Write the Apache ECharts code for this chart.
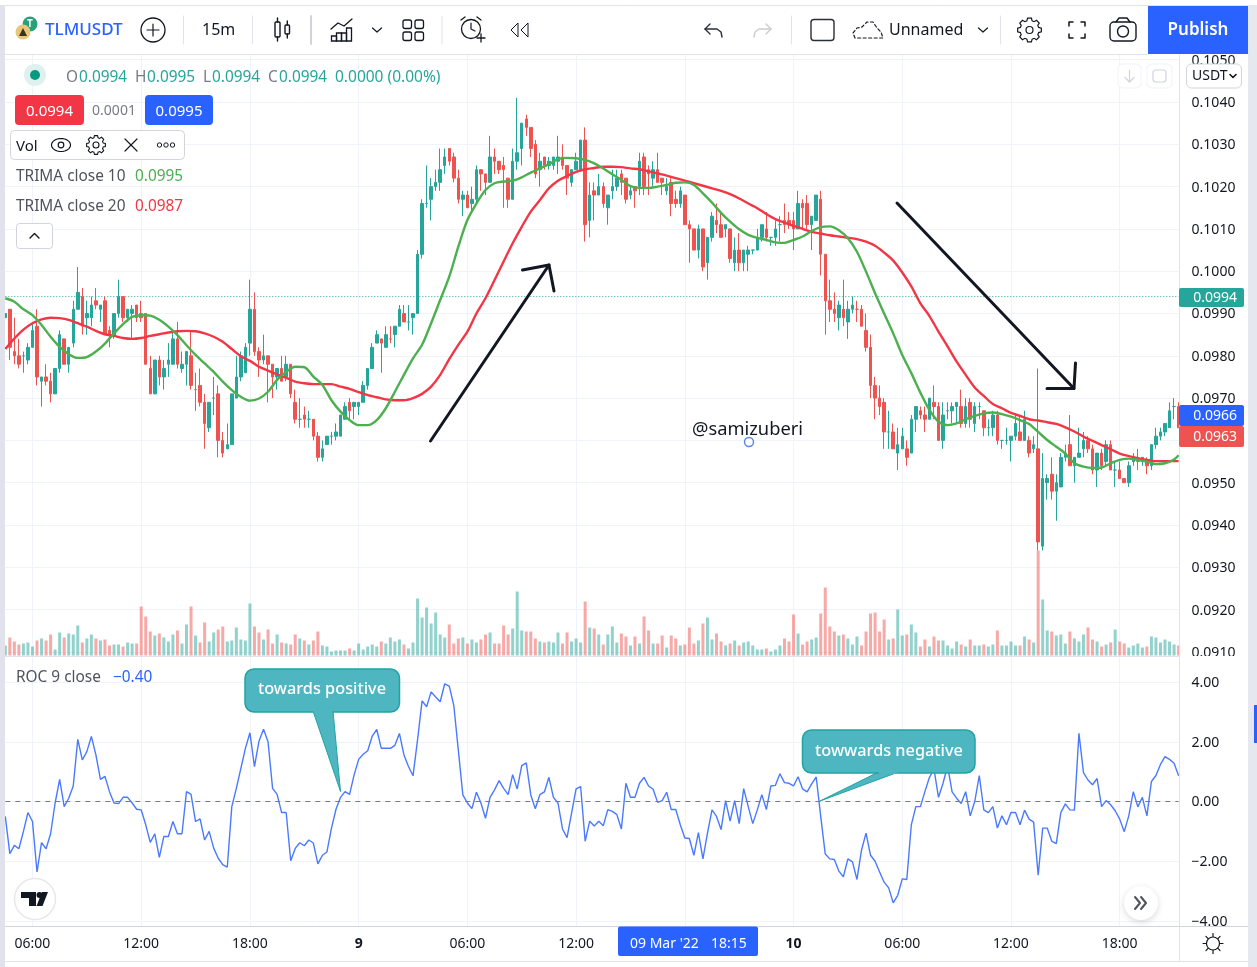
<!DOCTYPE html>
<html>
<head>
<meta charset="utf-8">
<title>TLMUSDT 15m</title>
<style>html,body{margin:0;padding:0;background:#fff}#chart{width:1257px;height:967px}</style>
<script src="https://cdn.jsdelivr.net/npm/echarts@6/dist/echarts.min.js"></script>
</head>
<body>
<div id="chart"></div>
<script>
// Prices are kept in ticks of 0.0001 USDT.
const opens = [
989,991,981,980,980,979,982,987,974,975,
974,971,977,984,978,983,991,994,989,989,
993,991,993,986,985,990,994,989,990,992,
990,990,977,971,979,975,978,978,984,977,
978,980,972,973,969,963,970,971,960,958,
959,970,975,976,983,991,981,979,980,978,
975,977,975,978,969,965,966,965,965,961,
956,959,961,961,961,965,969,968,968,969,
973,977,983,984,982,984,985,987,990,988,
989,990,1004,1016,1017,1020,1021,1025,1029,1027,
1022,1017,1018,1016,1017,1024,1023,1021,1027,1026,
1025,1022,1017,1026,1029,1036,1034,1030,1024,1027,
1025,1025,1026,1027,1025,1021,1024,1024,1031,1012,
1019,1018,1020,1015,1019,1020,1023,1022,1018,1020,
1020,1027,1024,1022,1024,1022,1019,1021,1017,1016,
1018,1011,1010,1005,1010,1002,1008,1012,1011,1010,
1010,1002,1005,1002,1004,1005,1005,1008,1010,1008,
1008,1011,1012,1012,1012,1010,1016,1016,1011,1012,
1017,1004,993,991,989,991,988,991,991,991,
986,982,973,970,969,962,962,957,958,958,
957,965,967,966,965,969,968,960,967,967,
968,968,964,969,964,968,967,963,963,966,
960,960,960,961,962,960,960,958,958,935,
950,952,948,949,956,959,954,956,958,960,
958,953,957,955,959,953,953,951,950,955,
955,955,955,954,959,961,962,963,968,968];
const closes = [
990,982,980,978,980,982,986,975,975,974,
971,977,985,978,982,991,995,987,990,992,
992,992,985,985,990,994,989,991,991,989,
989,978,971,979,975,977,979,984,978,978,
981,973,972,969,964,969,970,960,957,959,
971,975,980,982,991,981,979,980,978,975,
977,974,978,971,965,965,965,965,961,956,
958,961,961,962,966,968,967,969,969,973,
977,982,985,983,985,984,987,991,988,988,
990,1004,1016,1016,1020,1021,1024,1027,1026,1022,
1017,1018,1015,1017,1024,1023,1021,1027,1026,1024,
1024,1017,1026,1028,1035,1034,1029,1023,1026,1025,
1026,1027,1027,1025,1022,1024,1026,1031,1011,1018,
1018,1020,1016,1018,1020,1022,1021,1017,1019,1019,
1026,1020,1023,1024,1021,1021,1020,1016,1016,1019,
1011,1010,1005,1010,1001,1008,1013,1011,1008,1011,
1003,1005,1002,1005,1005,1005,1008,1011,1008,1008,
1010,1011,1011,1011,1010,1016,1015,1011,1013,1018,
1004,993,991,990,992,989,991,992,991,987,
982,973,970,968,962,962,958,959,961,956,
965,968,966,965,970,968,960,966,967,968,
969,964,968,965,968,968,963,963,966,960,
960,960,961,964,960,965,957,959,936,951,
951,948,950,956,957,954,956,957,960,958,
953,957,954,959,953,953,951,950,954,956,
955,956,954,959,961,962,964,967,968,963];
const lows = [
989,979,978,977,976,978,982,973,968,973,
969,971,976,978,976,982,991,985,985,987,
991,988,985,982,984,989,988,988,984,988,
988,978,971,971,973,972,975,978,977,976,
973,972,967,968,958,962,966,956,956,958,
959,970,974,976,980,980,975,978,969,970,
972,974,974,970,964,963,963,963,960,955,
955,959,959,960,961,965,965,965,966,969,
972,977,983,976,982,983,982,987,988,986,
985,990,1003,1015,1012,1019,1019,1023,1025,1021,
1016,1013,1015,1014,1016,1019,1018,1021,1023,1023,
1015,1015,1017,1024,1025,1032,1027,1022,1020,1024,
1024,1024,1023,1024,1018,1020,1024,1024,1007,1008,
1012,1018,1015,1011,1017,1019,1018,1016,1017,1015,
1018,1018,1018,1020,1021,1018,1018,1013,1015,1015,
1011,1002,1005,1003,1000,998,1007,1009,1008,1008,
1002,1000,1000,1000,1000,1004,1005,1007,1007,1006,
1006,1007,1009,1010,1005,1010,1010,1010,1005,1012,
999,985,988,988,986,987,984,990,988,987,
981,970,965,966,958,958,958,953,958,954,
957,962,965,962,965,965,960,958,965,964,
964,963,963,963,962,965,961,961,961,959,
958,959,955,960,960,960,956,957,934,934,
946,946,941,949,955,954,950,956,956,957,
952,949,953,954,953,949,951,950,949,954,
953,954,952,953,958,960,961,963,965,963];
const highs = [
990,991,989,984,981,983,988,991,975,978,
976,977,986,984,982,993,1001,996,993,994,
996,992,994,987,990,998,994,991,992,992,
993,990,980,979,980,979,983,986,988,981,
981,986,976,977,971,969,975,973,962,964,
971,980,981,983,998,995,982,985,980,978,
977,980,980,978,972,970,968,967,965,962,
960,961,962,964,966,969,970,969,969,974,
977,983,986,984,987,987,987,992,992,992,
990,1005,1017,1025,1022,1024,1029,1029,1029,1028,
1024,1019,1019,1020,1025,1024,1023,1032,1029,1026,
1027,1022,1029,1041,1035,1037,1034,1031,1028,1027,
1027,1027,1032,1030,1025,1024,1028,1031,1034,1021,
1021,1023,1021,1018,1024,1024,1024,1022,1020,1020,
1028,1028,1025,1026,1028,1022,1022,1022,1019,1020,
1018,1012,1010,1011,1010,1008,1014,1016,1014,1011,
1010,1008,1009,1005,1006,1005,1010,1011,1014,1008,
1012,1013,1016,1014,1014,1019,1017,1018,1013,1018,
1019,1004,998,995,993,998,993,994,993,992,
990,985,975,973,970,967,964,963,963,960,
966,968,968,968,970,973,969,969,969,969,
969,972,970,970,969,969,967,965,967,967,
960,963,961,966,966,967,961,961,977,957,
952,956,952,957,959,966,956,963,962,961,
959,957,958,960,960,955,955,951,955,957,
958,956,956,959,963,963,964,969,970,969];
const lastPrice = 994;

const volumes = [
10,18,14,11,12,13,9,15,17,15,
21,6,23,18,22,21,30,13,17,21,
17,15,16,10,11,11,9,13,12,12,
49,39,24,20,22,18,14,21,25,12,
31,49,20,13,33,14,23,26,29,14,
15,28,16,15,52,29,23,16,26,12,
21,13,12,11,21,17,15,11,15,24,
10,9,4,5,5,5,7,5,12,6,
9,11,9,14,12,18,14,16,11,7,
13,57,38,48,32,43,21,18,31,12,
17,18,12,16,13,16,21,23,12,12,
30,21,27,64,25,24,24,17,14,13,
14,13,23,12,23,14,17,13,54,28,
27,21,11,21,29,13,22,19,10,19,
12,39,25,12,12,20,8,20,17,10,
11,28,12,15,32,38,16,22,14,10,
12,15,10,13,14,10,6,6,7,4,
6,10,17,14,41,22,11,14,16,18,
42,68,29,24,20,21,17,11,19,10,
24,42,43,24,36,16,17,46,20,21,
31,23,9,16,9,19,15,15,10,7,
14,11,9,16,10,10,11,9,11,25,
10,10,14,10,10,19,16,13,105,56,
25,24,20,21,12,24,17,14,21,28,
16,14,9,11,13,26,14,12,8,10,
12,8,9,19,18,13,16,14,11,10];
// g = buying volume, r = selling volume, one letter per bar.
const volumeSides =
"grrrgggrgr"+"rggrgggrgg"+"rgrrggrggr"+"rrrgrgggrg"+"grgrrggrrg"+
"gggggrrgrr"+"grgrrgrgrr"+"ggggggrggg"+"gggrggggrg"+"ggggggggrr"+
"rgrggrrgrr"+"rrgggrrrgr"+"gggrrgggrg"+"rgrgggrrgr"+"grrgrrgrrg"+
"rrrgrggrrg"+"rgrgggggrg"+"ggrrrgrrgg"+"rrrrgrgggr"+"rrrrrgrggr"+
"ggrrgrrggg"+"grgrggrggr"+"ggggrgrgrg"+"grgggrgggr"+"rgrgrgrrgg"+"ggrggggggr";

const trimaFast = [
993.6,992.8,991,989.6,987.3,984.5,982.1,980.4,979.5,979.7,
981,982.9,985.3,987.5,989.2,989.6,989.5,988.5,986.9,984.9,
982.5,980.2,978.2,976.2,973.9,971.9,970.3,969.4,969.9,971.5,
974.3,976.2,977.4,977.3,975.1,973.1,969.5,966.8,964.8,963.6,
963.6,964.8,967.6,971.5,975.5,979.4,982.6,987.7,993.2,998.7,
1005.8,1012.1,1016,1019.2,1020.8,1021.2,1021.4,1022.2,1023.3,1024.3,
1025.3,1026.5,1026.8,1026.7,1026.3,1025.5,1024.3,1022.9,1021.6,1020.1,
1019.7,1019.7,1020,1020.4,1020.9,1021,1020.4,1018.4,1016.2,1013.8,
1011.7,1009.9,1008.6,1007.9,1007.4,1006.8,1006.7,1007.4,1008.2,1009.5,
1010.4,1010.6,1009.7,1007.8,1004.6,999.9,994.8,990,985.3,980.2,
975.9,971.3,967.2,964.4,963.6,964,965,965.8,966.4,966.6,
966.2,965.6,964.8,963.9,962,960.1,958.5,956.9,954.6,953.8,
953.5,953.6,954.6,955.4,955.7,955.4,955,954.4,954.6,955.5,
956.5];
const trimaSlow = [
981.6,984.1,986.2,987.7,988.6,989,988.9,988.5,987.7,986.9,
985.9,985.1,984.7,984.2,984,984.2,984.7,985.1,985.5,985.8,
985.9,985.8,985.3,984.5,983.3,981.6,979.9,978.8,977.4,976.5,
975.6,974.8,973.9,973.5,973.3,973.3,973.3,972.7,972.2,971.4,
970.7,970.2,969.7,969.5,969.5,970,971,972.7,975.5,979.2,
982.6,985.7,990,993.6,997.9,1002.3,1006.6,1010.5,1014.1,1016.8,
1019.6,1021.4,1022.5,1023.5,1024.1,1024.4,1024.7,1024.7,1024.6,1024.3,
1024.1,1023.6,1023.1,1022.6,1022,1021.4,1020.8,1020.2,1019.6,1019,
1018.2,1017.2,1016,1014.9,1013.5,1012.3,1011.5,1010.7,1010,1009.3,
1008.9,1008.5,1008.2,1007.9,1007.6,1007,1006,1004.4,1002.5,999.7,
996.4,992.4,989.4,985.7,982.2,978.6,975.5,972.5,970.5,968.6,
967.6,966.5,965.8,965,964.7,964.3,963.9,963.1,962.1,960.9,
959.9,958.9,957.9,956.9,956.3,955.8,955.4,955.1,955.1,955.1,
955.1];

const roc = [
-0.5,-1.75,-1.47,-1.58,-1.0,-0.37,-0.67,-2.36,-1.38,-1.58,
-1.08,-0.05,0.74,-0.17,0.11,0.52,2.08,1.39,1.67,2.18,
1.56,0.74,0.84,0.33,-0.05,-0.07,0.14,0.14,-0.05,-0.26,
-0.28,-0.78,-1.37,-1.08,-1.87,-1.17,-1.17,-0.67,-1.08,-1.08,
0.33,0.24,-0.67,-0.58,-1.29,-1.0,-1.56,-1.9,-2.11,-2.2,
-0.17,0.44,1.11,1.78,2.3,1.17,2.02,2.42,2.0,0.44,
0.24,-0.37,-0.37,-1.98,-1.57,-1.38,-1.48,-1.29,-1.39,-2.09,
-1.8,-1.69,-0.89,-0.26,0.14,0.33,0.24,0.89,1.41,1.58,
1.7,2.19,2.41,1.78,1.78,1.78,1.88,2.28,1.56,1.17,
0.86,2.06,3.37,3.17,3.67,3.5,3.34,3.94,3.86,3.22,
1.72,0.22,-0.05,-0.24,0.31,-0.05,-0.56,0.14,0.39,0.7,
0.44,0.23,0.9,0.42,1.2,1.29,0.22,-0.24,0.23,0.32,
0.81,0.14,-0.05,-0.92,-1.21,-0.39,0.42,0.5,-1.33,-0.66,
-0.82,-0.66,-0.81,-0.27,-0.33,-0.44,-0.92,0.61,0.14,0.14,
0.61,0.81,0.52,0.41,-0.03,0.03,0.31,-0.27,-0.27,-0.78,
-1.22,-1.24,-1.8,-1.04,-1.92,-1.06,-0.28,-0.5,-0.94,0.03,
-0.66,0.03,-0.74,0.43,-0.17,-0.74,-0.28,0.23,-0.27,0.52,
0.54,0.93,0.63,0.61,0.52,0.83,0.42,0.32,0.59,0.82,
-0.5,-1.76,-1.92,-1.94,-2.33,-2.52,-1.92,-2.02,-2.61,-1.63,
-1.06,-1.8,-2.0,-2.36,-2.7,-2.89,-3.39,-3.14,-2.59,-2.61,
-0.78,-0.17,-0.17,0.33,0.81,1.08,0.14,0.61,1.19,0.32,
0.11,-0.07,0.33,-0.48,0,0.87,-0.28,-0.37,-0.17,-0.89,
-0.48,-0.78,-0.37,-0.37,-0.78,-0.29,-0.59,-0.69,-2.47,-0.89,
-0.89,-1.33,-1.41,-0.37,-0.08,-0.28,-0.29,2.28,0.97,0.72,
0.56,0.77,-0.17,0.03,-0.11,-0.31,-0.59,-1.01,-0.48,0.33,
-0.18,0.14,-0.48,0.67,0.87,1.24,1.5,1.41,1.28,0.86];

// 15-minute bars from 8 Mar 04:30; a midnight bar is named by its day number.
const times = [];
const barMinutes = [];
for (let i = 0; i < opens.length; i++) {
  const total = 270 + 15 * i;
  const m = total % 1440;
  barMinutes.push(total);
  times.push(m === 0 ? String(8 + total / 1440)
    : String(Math.floor(m / 60)).padStart(2, '0') + ':' + String(m % 60).padStart(2, '0'));
}
const sixHourly = (i) => barMinutes[i] % 360 === 0;

const UP = '#26a69a', DOWN = '#ef5350', INK = '#131722', GREY = '#787b86', BLUE = '#2962ff';
const FONT = '"Noto Sans", sans-serif';
const candleData = opens.map((o, i) => [o / 1e4, closes[i] / 1e4, lows[i] / 1e4, highs[i] / 1e4]);
const volumeData = volumes.map((v, i) => ({
  value: v,
  itemStyle: { color: volumeSides[i] === 'g' ? 'rgba(38,166,154,0.5)' : 'rgba(239,83,80,0.5)' }
}));
const lineData = (arr) => arr.map((v, k) => [Math.min(k * 2, opens.length - 1), v / 1e4]);

// Drawing helpers for the toolbar, the legend rows and the annotations.
const g = [];
const Z = 60;
const rect = (x, y, w, h, r, fill, stroke, lw) => g.push({ type: 'rect', z: Z, silent: true,
  shape: { x, y, width: w, height: h, r: r || 0 },
  style: { fill: fill || 'none', stroke: stroke || 'none', lineWidth: lw || 1 } });
const circle = (cx, cy, r, fill, stroke, lw, dash) => g.push({ type: 'circle', z: Z, silent: true,
  shape: { cx, cy, r }, style: { fill: fill || 'none', stroke: stroke || 'none', lineWidth: lw || 1, lineDash: dash } });
const poly = (points, stroke, lw, dash) => g.push({ type: 'polyline', z: Z, silent: true,
  shape: { points }, style: { fill: 'none', stroke, lineWidth: lw || 1, lineDash: dash, lineCap: 'round', lineJoin: 'round' } });
const fillPoly = (points, fill, stroke, opacity) => g.push({ type: 'polygon', z: Z, silent: true,
  shape: { points }, style: { fill, stroke: stroke || 'none', lineWidth: 1, opacity: opacity === undefined ? 1 : opacity } });
const text = (x, y, t, fill, size, weight, align) => g.push({ type: 'text', z: Z, silent: true,
  style: { x, y: y + 1.5, text: t, fill, font: (weight || 400) + ' ' + (size || 14) + 'px ' + FONT, align: align || 'left', verticalAlign: 'middle' } });
const gear = (cx, cy, ro, ri, hole, stroke, lw) => {
  const pts = [];
  for (let k = 0; k < 8; k++) {
    const a = k * Math.PI / 4;
    [[-0.28, ri], [-0.16, ro], [0.16, ro], [0.28, ri]].forEach(([d, r]) =>
      pts.push([cx + r * Math.cos(a + d), cy + r * Math.sin(a + d)]));
  }
  fillPoly(pts, 'none', stroke);
  g[g.length - 1].style.lineWidth = lw || 1.2;
  circle(cx, cy, hole, 'none', stroke, lw || 1.2);
};

// Page frame, pane separators and masks over the clipped scale labels.
rect(1180, 656, 68, 14, 0, '#fff');
rect(1180, 927, 68, 14, 0, '#fff');
rect(0, 0, 1257, 54.5, 0, '#fff');
poly([[0, 5.5], [1257, 5.5]], '#e0e3eb', 1);
poly([[5, 54.5], [1148, 54.5]], '#e0e3eb', 1);
poly([[5, 656.5], [1179.5, 656.5]], '#e0e3eb', 1);
poly([[1179.5, 55], [1179.5, 961]], '#e0e3eb', 1);
poly([[5, 926.5], [1248, 926.5]], '#d1d4dc', 1);
poly([[5, 961.5], [1248, 961.5]], '#e0e3eb', 1);
rect(0, 5, 5, 962, 0, '#e0e3eb');
rect(1248, 5, 9, 962, 0, '#e6e8f0');
rect(1254, 705, 3, 38, 0, BLUE);

// Toolbar.
circle(30, 24, 7.5, '#26a17b');
text(30, 23, 'T', '#fff', 10, 700, 'center');
circle(23, 32, 7.5, '#e8c77b');
fillPoly([[23, 28], [27, 36], [19, 36]], '#3a3320');
text(45, 29, 'TLMUSDT', BLUE, 17, 500);
circle(153, 30, 12, 'none', INK, 1.3);
poly([[153, 24], [153, 36]], INK, 1.2); poly([[147, 30], [159, 30]], INK, 1.2);
poly([[183.5, 16], [183.5, 44]], '#e0e3eb', 1);
text(202, 29, '15m', INK, 16);
poly([[252.5, 16], [252.5, 44]], '#e0e3eb', 1);
rect(275, 22, 5, 15, 1, 'none', INK, 1.4); poly([[277.5, 18], [277.5, 22]], INK, 1.4); poly([[277.5, 37], [277.5, 41]], INK, 1.4);
rect(285, 25, 4.5, 9, 1, 'none', INK, 1.4); poly([[287.3, 21], [287.3, 25]], INK, 1.4); poly([[287.3, 34], [287.3, 38]], INK, 1.4);
poly([[311, 16], [311, 44]], '#d1d4dc', 2);
poly([[331, 29], [338, 23], [344, 26], [352, 19]], INK, 1.3);
rect(331.5, 36, 5, 5, 0, 'none', INK, 1.3); rect(336.5, 33, 5, 8, 0, 'none', INK, 1.3); rect(341.5, 33, 5, 8, 0, 'none', INK, 1.3); rect(346.5, 28, 5, 13, 0, 'none', INK, 1.3);
poly([[372.5, 28], [377, 32], [381.5, 28]], INK, 1.2);
[[403, 20], [415, 20], [403, 32], [415, 32]].forEach(([x, y]) => rect(x, y, 8.5, 8.5, 2, 'none', INK, 1.3));
poly([[442, 16], [442, 44]], '#e0e3eb', 1);
circle(471, 29, 9.5, 'none', INK, 1.3);
poly([[471, 23], [471, 29], [475, 31]], INK, 1.2);
poly([[461, 20], [465, 17]], INK, 1.3); poly([[477, 17], [481, 20]], INK, 1.3);
poly([[481, 34], [481, 42]], INK, 1.3); poly([[477, 38], [485, 38]], INK, 1.3);
fillPoly([[518, 23], [518, 37], [511, 30]], 'none', INK); fillPoly([[528, 23], [528, 37], [521, 30]], 'none', INK);
poly([[710, 24], [705, 29], [710, 34]], '#2a2e39', 1.4); poly([[705, 29], [717, 29], [721, 32], [722, 37]], '#2a2e39', 1.4);
poly([[766, 24], [771, 29], [766, 34]], '#c9cbd1', 1.4); poly([[771, 29], [759, 29], [755, 32], [754, 37]], '#c9cbd1', 1.4);
poly([[791.5, 16], [791.5, 44]], '#e0e3eb', 1);
rect(811, 19.5, 23, 21, 3, 'none', '#2a2e39', 1.4);
poly([[855, 38], [853, 33], [857, 28], [862, 27], [867, 22], [873, 22], [877, 28], [881, 32], [883, 38], [855, 38]], INK, 1.2, [3, 2.5]);
text(889, 29, 'Unnamed', INK, 16);
poly([[978.5, 28], [983, 32], [987.5, 28]], INK, 1.2);
poly([[1000.5, 16], [1000.5, 44]], '#e0e3eb', 1);
gear(1029.5, 30, 12, 9.5, 3.5, INK, 1.2);
[[[1069, 26], [1069, 22], [1073, 22]], [[1081, 22], [1085, 22], [1085, 26]], [[1069, 34], [1069, 38], [1073, 38]], [[1081, 38], [1085, 38], [1085, 34]]].forEach((p) => poly(p, INK, 1.5));
rect(1110, 22, 26, 19, 4, 'none', INK, 1.4); circle(1123, 31.5, 5.5, 'none', INK, 1.4);
poly([[1116, 22], [1119, 18], [1127, 18], [1130, 22]], INK, 1.4);
rect(1148, 6, 100, 48, 0, BLUE);
text(1198, 29, 'Publish', '#fff', 17, 600, 'center');

// Symbol legend.
circle(35, 75, 11, '#dff1ee'); circle(35, 75, 5, '#089981');
[[66, 'O', 79, '0.0994'], [135, 'H', 147, '0.0995'], [203, 'L', 212, '0.0994'], [268, 'C', 279, '0.0994']].forEach(([x1, k, x2, v]) => {
  text(x1, 76, k, GREY, 15.4); text(x2, 76, v, UP, 15.4);
});
text(335, 76, '0.0000 (0.00%)', UP, 15.5);
rect(15, 95, 69, 30, 4, '#f23645'); text(49.5, 110, '0.0994', '#fff', 15, 400, 'center');
text(114, 110, '0.0001', GREY, 14, 400, 'center');
rect(145, 95, 68, 30, 4, BLUE); text(179, 110, '0.0995', '#fff', 15, 400, 'center');
rect(10.5, 130.5, 174, 29, 4, '#fff', '#d1d4dc', 1);
text(16, 145, 'Vol', INK, 15);
const eye = [];
for (let k = 0; k <= 32; k++) { const a = k / 32 * 2 * Math.PI; eye.push([61 + 9.5 * Math.cos(a), 145 + 6.5 * Math.sin(a)]); }
poly(eye, INK, 1.2); circle(61, 145, 2.8, 'none', INK, 1.2);
gear(96, 145, 9.5, 7.5, 3, INK, 1.1);
poly([[125, 139], [137, 151]], INK, 1.2); poly([[137, 139], [125, 151]], INK, 1.2);
[159.5, 166, 172.5].forEach((x) => circle(x, 145, 2.2, 'none', INK, 1));
text(16, 175.5, 'TRIMA close 10', '#50535e', 15.4); text(135, 175.5, '0.0995', '#4caf50', 15.4);
text(16, 205.5, 'TRIMA close 20', '#50535e', 15.4); text(135, 205.5, '0.0987', '#f23645', 15.4);
rect(16.5, 223.5, 36, 25, 3, '#fff', '#d1d4dc', 1);
poly([[30, 238], [34.5, 233.5], [39, 238]], INK, 1.4);

// Scale buttons and last-price tags.
rect(1118, 64, 23, 24, 5, '#fff', '#f0f3fa', 1);
poly([[1129.5, 70], [1129.5, 82]], '#d1d4dc', 1.2); poly([[1125, 77.5], [1129.5, 82], [1134, 77.5]], '#d1d4dc', 1.2);
rect(1147, 64, 25, 24, 5, '#fff', '#f0f3fa', 1);
rect(1153, 70, 13, 12, 3, 'none', '#d1d4dc', 1.2);
rect(1186.5, 64, 55, 24, 5, '#fff', '#d1d4dc', 1);
text(1192, 75, 'USDT', INK, 14);
poly([[1230, 74.5], [1233, 77.5], [1236, 74.5]], INK, 1.6);
rect(1179, 288, 65, 19, 2, '#26a69a'); text(1237, 297, '0.0994', '#fff', 14, 400, 'right');
rect(1179, 405, 65, 21, 2, BLUE); text(1237, 415, '0.0966', '#fff', 14, 400, 'right');
rect(1179, 426, 65, 21, 2, '#ef5350'); text(1237, 436, '0.0963', '#fff', 14, 400, 'right');

// Hand-drawn annotations.
poly([[430.5, 441], [549, 265]], INK, 3); poly([[522.5, 270], [549, 265], [554, 291]], INK, 3);
poly([[897, 203], [1074, 388.5]], INK, 3); poly([[1047, 388.5], [1074, 388.5], [1075.5, 363]], INK, 3);
text(692, 428, '@samizuberi', INK, 18.3);
circle(749, 442, 4.5, '#fff', '#5d87e8', 1.5);

const TEAL = '#4db6c0', TEAL_EDGE = '#22a3a3';
fillPoly([[313, 711], [333, 711], [340.5, 791.5]], TEAL, TEAL_EDGE);
rect(245, 669, 154.5, 43, 9, TEAL, TEAL_EDGE, 1.5);
rect(313.5, 708, 19, 5, 0, TEAL);
text(322, 688, 'towards positive', '#fff', 16.3, 500, 'center');
fillPoly([[878.5, 772], [898.5, 772], [820, 801]], TEAL, TEAL_EDGE);
rect(802.5, 730, 172.5, 43, 9, TEAL, TEAL_EDGE, 1.5);
rect(879, 769, 19, 5, 0, TEAL);
text(889, 750, 'towwards negative', '#fff', 16.3, 500, 'center');

// Indicator caption, logo badge, scroll button and time scale extras.
text(16, 676.5, 'ROC 9 close', '#50535e', 15.4); text(113, 676.5, '\u22120.40', BLUE, 15.4);
circle(35, 899, 20.5, '#fff', '#e8e8e8', 1.5);
fillPoly([[21, 892], [36, 892], [36, 906], [29, 906], [29, 898], [21, 898]], INK);
circle(39.5, 895, 3, INK);
fillPoly([[42, 892], [48, 892], [42.5, 906], [36.5, 906]], INK);
g.push({ type: 'circle', z: Z, silent: true, shape: { cx: 1141, cy: 903, r: 17 },
  style: { fill: '#fff', shadowBlur: 6, shadowColor: 'rgba(0,0,0,0.15)', shadowOffsetY: 2 } });
poly([[1135, 897], [1140, 903], [1135, 909]], '#50535e', 2); poly([[1141, 897], [1146, 903], [1141, 909]], '#50535e', 2);
rect(618, 926.5, 140, 29.5, 2, BLUE);
text(630, 943, "09 Mar '22", '#fff', 14); text(711, 943, '18:15', '#fff', 14);
// Light-theme switch: a ring with short rays.
circle(1213, 943.5, 6.5, 'none', INK, 1.2);
for (let k = 0; k < 8; k++) {
  const a = k * Math.PI / 4;
  poly([[1213 + 7 * Math.cos(a), 943.5 + 7 * Math.sin(a)], [1213 + 10 * Math.cos(a), 943.5 + 10 * Math.sin(a)]], INK, 1.2);
}

const chart = echarts.init(document.getElementById('chart'));
const hiddenX = (gridIndex) => ({ type: 'category', gridIndex, data: times, boundaryGap: false, show: false });
const gridBox = (top, height) => ({ left: 5.3, width: 1173.3, top, height });
const scaleLabel = (formatter) => ({ color: INK, fontSize: 14, fontFamily: FONT, margin: 13, verticalAlign: 'top', lineHeight: 2, formatter });

chart.setOption({
  animation: false,
  backgroundColor: '#fff',
  grid: [gridBox(59.7, 592.2), gridBox(55, 600.5), gridBox(682, 239), gridBox(657, 269)],
  xAxis: [
    hiddenX(0),
    {
      type: 'category', gridIndex: 1, data: times, boundaryGap: false,
      axisLine: { show: false }, axisTick: { show: false }, axisLabel: { show: false },
      splitLine: { show: true, interval: sixHourly, lineStyle: { color: '#f0f3fa', width: 1 } }
    },
    hiddenX(2),
    {
      type: 'category', gridIndex: 3, data: times, boundaryGap: false,
      axisLine: { show: false }, axisTick: { show: false },
      splitLine: { show: true, interval: sixHourly, lineStyle: { color: '#f0f3fa', width: 1 } },
      axisLabel: {
        interval: sixHourly, color: INK, fontSize: 14, fontFamily: FONT, margin: 11,
        formatter: (v) => v.length < 3 ? '{day|' + v + '}' : v,
        rich: { day: { fontWeight: 700, fontSize: 14, color: INK, fontFamily: FONT } }
      }
    }
  ],
  yAxis: [
    {
      type: 'value', gridIndex: 0, position: 'right', min: 0.091, max: 0.105, interval: 0.001,
      axisLine: { show: false }, axisTick: { show: false },
      axisLabel: scaleLabel((v) => v.toFixed(4)),
      splitLine: { lineStyle: { color: '#f0f3fa', width: 1 } }
    },
    {
      type: 'value', gridIndex: 1, min: 0, max: 600.5, show: false, splitLine: { show: false }
    },
    {
      type: 'value', gridIndex: 2, position: 'right', min: -4, max: 4, interval: 2,
      axisLine: { show: false }, axisTick: { show: false },
      axisLabel: scaleLabel((v) => (v < 0 ? '\u2212' : '') + Math.abs(v).toFixed(2)),
      splitLine: { lineStyle: { color: '#f0f3fa', width: 1 } }
    },
    { type: 'value', gridIndex: 3, min: 0, max: 1, show: false, splitLine: { show: false } }
  ],
  series: [
    {
      name: 'Vol', type: 'bar', xAxisIndex: 1, yAxisIndex: 1, barWidth: 3, silent: true,
      data: volumeData, z: 1
    },
    {
      name: 'Last price', type: 'line', xAxisIndex: 0, yAxisIndex: 0, symbol: 'none', silent: true, z: 2,
      data: [[0, lastPrice / 1e4], [opens.length - 1, lastPrice / 1e4]],
      lineStyle: { color: UP, type: [1, 2], width: 1 }
    },
    {
      name: 'TLMUSDT', type: 'candlestick', xAxisIndex: 0, yAxisIndex: 0, barWidth: 3, silent: true,
      clip: true, data: candleData, z: 3,
      itemStyle: { color: UP, color0: DOWN, borderColor: UP, borderColor0: DOWN, borderWidth: 1 }
    },
    {
      name: 'TRIMA 20', type: 'line', xAxisIndex: 0, yAxisIndex: 0, data: lineData(trimaSlow),
      symbol: 'none', smooth: 0.3, silent: true, z: 4, lineStyle: { color: '#f23645', width: 2.4 }
    },
    {
      name: 'TRIMA 10', type: 'line', xAxisIndex: 0, yAxisIndex: 0, data: lineData(trimaFast),
      symbol: 'none', smooth: 0.3, silent: true, z: 5, lineStyle: { color: '#4caf50', width: 2.4 }
    },
    {
      name: 'ROC 9', type: 'line', xAxisIndex: 2, yAxisIndex: 2, data: roc,
      symbol: 'none', silent: true, z: 4, lineStyle: { color: BLUE, width: 1.4, opacity: 0.85 },
      markLine: {
        silent: true, symbol: 'none', label: { show: false },
        lineStyle: { color: GREY, type: [5, 5], width: 1 },
        data: [{ yAxis: 0 }]
      }
    }
  ],
  graphic: { elements: g }
});
</script>
</body>
</html>
